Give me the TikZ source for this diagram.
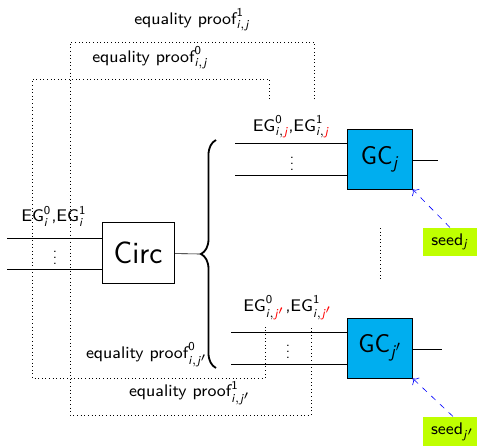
\documentclass[tikz,border=0pt]{standalone}
\usepackage{amsmath}
\usetikzlibrary{decorations.pathreplacing, arrows.meta}
\definecolor{gccyan}{RGB}{0,174,239}
\definecolor{seedlime}{RGB}{191,255,0}
\newcommand{\egname}[2]{EG$^{\text{#1}}_{#2}$}
\newcommand{\eqproof}[2]{equality proof$^{\text{#1}}_{#2}$}
\newcommand{\rj}{\textcolor{red}{\textit{j}}}
\begin{document}
\begin{tikzpicture}[x=0.0234cm, y=-0.0234cm, font=\sffamily,
        circbox/.style={draw, minimum width=48pt, minimum height=40.5pt, font=\sffamily\huge},
        gcbox/.style={draw, fill=gccyan, minimum width=43pt, minimum height=40pt, inner sep=2pt, font=\sffamily\LARGE},
        lbl/.style={font=\sffamily\scriptsize, scale=1.6, inner sep=1pt},
        dots/.style={inner sep=0pt},
        seedbox/.style={fill=seedlime, font=\sffamily\scriptsize, scale=1.6, inner xsep=3.4pt, inner ysep=2.4pt},
        proofline/.style={dotted},
        seedarrow/.style={-{To[scale=1.3]}, dash pattern=on 4pt off 4pt, blue}]
            \useasboundingbox (0,0) rectangle (477,446);
            \node[circbox] (circ) at (138,253) {Circ};
            \coordinate (in1) at (7,238);
            \coordinate (in2) at (7,269);
            \draw (in1) -- (in1 -| circ.west);
            \draw (in2) -- (in2 -| circ.west);
            \node[lbl] (egi) at (54,216) {\egname{0}{\textit{i}},\egname{1}{\textit{i}}};
            \node[dots] (dotsin) at (55,253) {$\vdots$};
            \coordinate (brtip) at (200,254);
            \draw (circ) -- (brtip);
            \coordinate (brbot) at (216,368);
            \coordinate (brtop) at (216,140);
            \draw[line width=1.2pt, decorate, decoration={brace, amplitude=10pt}] (brbot) -- (brtop);
            \node[gcbox] (gcj) at (380,159) {GC$_{\text{\textit{j}}}$};
            \coordinate (a1) at (235,143);
            \coordinate (a2) at (235,175);
            \draw (a1) -- (a1 -| gcj.west);
            \draw (a2) -- (a2 -| gcj.west);
            \node[dots] (dotsj) at (292,159) {$\vdots$};
            \coordinate (outj) at (438,160);
            \draw (gcj.east |- outj) -- (outj);
            \node[lbl] (egj) at (291,127) {\egname{0}{\textit{i},\rj},\egname{1}{\textit{i},\rj}};
            \node[seedbox] (seedj) at (450,242) {seed$_{\text{\textit{j}}}$};
            \draw[seedarrow] (seedj.north) -- (gcj.south east);
            \coordinate (gap1) at (380,228);
            \coordinate (gap2) at (380,280);
            \draw[dotted] (gap1) -- (gap2);
            \node[gcbox] (gcjp) at (380,348) {GC$_{\text{\textit{j}}'}$};
            \coordinate (b1) at (231,332);
            \coordinate (b2) at (231,364);
            \draw (b1) -- (b1 -| gcjp.west);
            \draw (b2) -- (b2 -| gcjp.west);
            \node[dots] (dotsjp) at (288,347) {$\vdots$};
            \coordinate (outjp) at (442,349);
            \draw (gcjp.east |- outjp) -- (outjp);
            \node[lbl] (egjp) at (288,308) {\egname{0}{\textit{i},\textcolor{red}{\textit{j}'}},\egname{1}{\textit{i},\textcolor{red}{\textit{j}'}}};
            \node[seedbox] (seedjp) at (453,432) {seed$_{\text{\textit{j}}'}$};
            \draw[seedarrow] (seedjp.north) -- (gcjp.south east);
            \coordinate (u0) at (269,99);
            \coordinate (u1) at (314,99);
            \coordinate (l0) at (265,325);
            \coordinate (l1) at (311,325);
            \draw[proofline] (u0) -- (269,79) -- (32,79) -- (32,378) -- (265,378) -- (l0);
            \draw[proofline] (u1) -- (314,42) -- (70,42) -- (70,415) -- (311,415) -- (l1);
            \node[lbl] (prj1) at (192,20) {\eqproof{1}{\textit{i},\textit{j}}};
            \node[lbl] (prj0) at (150,58) {\eqproof{0}{\textit{i},\textit{j}}};
            \node[lbl] (prjp0) at (147,355) {\eqproof{0}{\textit{i},\textit{j}'}};
            \node[lbl] (prjp1) at (190,393) {\eqproof{1}{\textit{i},\textit{j}'}};
\end{tikzpicture}
\end{document}
